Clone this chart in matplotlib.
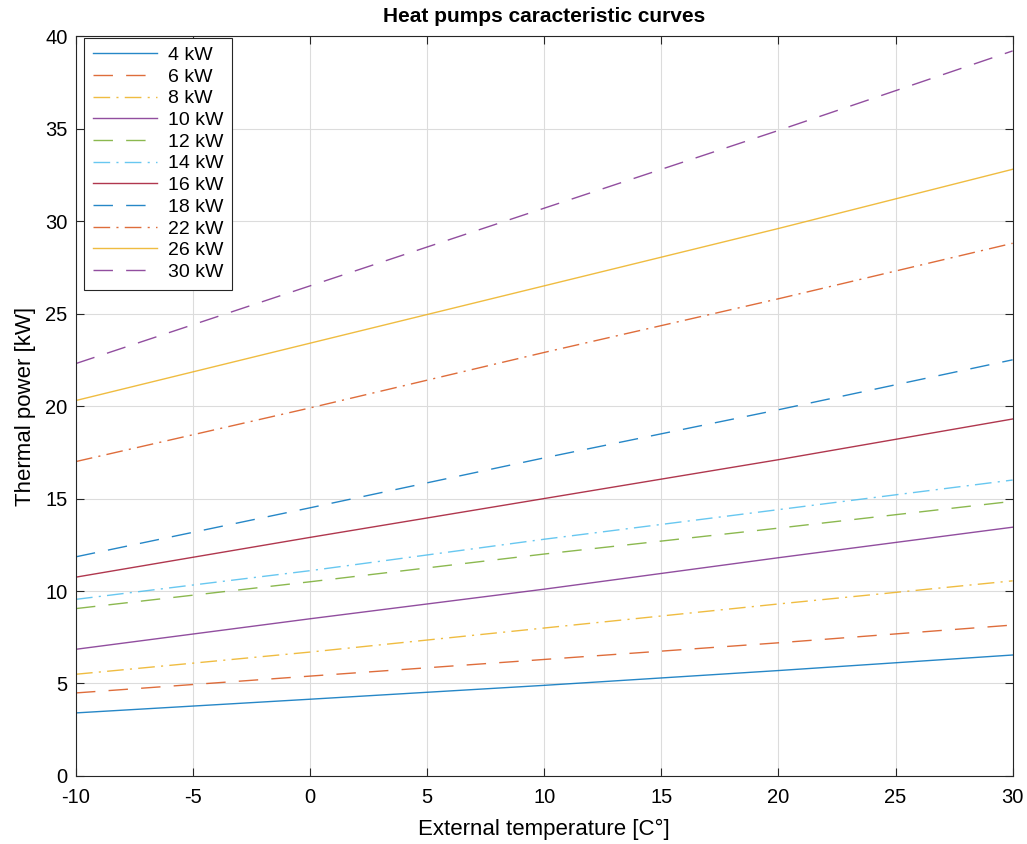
import matplotlib
matplotlib.use("Agg")
from matplotlib import pyplot as plt
import numpy as np

plt.rcParams['font.family'] = ['Liberation Sans', 'DejaVu Sans']
plt.rcParams['axes.unicode_minus'] = False

# data ####################################################################
temps = [-10, 0, 10, 20, 30]
labels = ['4 kW', '6 kW', '8 kW', '10 kW', '12 kW', '14 kW',
          '16 kW', '18 kW', '22 kW', '26 kW', '30 kW']
p4 = [3.41, 4.15, 4.9, 5.7, 6.54]
p6 = [4.49, 5.4, 6.3, 7.2, 8.16]
p8 = [5.5, 6.7, 8.0, 9.3, 10.55]
p10 = [6.85, 8.5, 10.1, 11.8, 13.45]
p12 = [9.05, 10.5, 12.0, 13.4, 14.85]
p14 = [9.55, 11.1, 12.8, 14.4, 16.0]
p16 = [10.75, 12.9, 15.0, 17.1, 19.3]
p18 = [11.85, 14.5, 17.2, 19.8, 22.5]
p22 = [17.0, 19.9, 22.9, 25.8, 28.8]
p26 = [20.3, 23.4, 26.5, 29.6, 32.8]
p30 = [22.3, 26.5, 30.7, 34.9, 39.2]
series = [p4, p6, p8, p10, p12, p14, p16, p18, p22, p26, p30]

#matlab-ish default colour / style cycle
colors = ['#0072BD', '#D95319', '#EDB120', '#7E2F8E', '#77AC30', '#4DBEEE', '#A2142F']
styles = ['-', (0, (14, 9.5)), (0, (12, 4.5, 1.5, 4.5))]

#plot####################################################################
fig = plt.figure(figsize=(10.27, 8.44), dpi=100)
ax = fig.add_axes([0.074, 0.0806, 0.912, 0.8766])

for i, (lab, vals) in enumerate(zip(labels, series)):
    ax.plot(temps, vals, color=colors[i % 7], linestyle=styles[i % 3],
            linewidth=1.0, alpha=0.85, label=lab)

ax.set_xlim(-10, 30)
ax.set_ylim(0, 40)
ax.set_xticks(np.arange(-10, 31, 5))
ax.set_yticks(np.arange(0, 41, 5))
ax.grid(True, color='#dcdcdc', linewidth=0.8)
ax.tick_params(direction='in', top=True, right=True, labelsize=14.5,
               length=6, color='#262626')
ax.tick_params(axis='x', pad=9)
ax.tick_params(axis='y', pad=6)
for s in ax.spines.values():
    s.set_color('#262626')
    s.set_linewidth(0.8)

ax.set_xlabel('External temperature [C°]', fontsize=16, labelpad=8)
ax.set_ylabel('Thermal power [kW]', fontsize=16, labelpad=7)
ax.set_title('Heat pumps caracteristic curves', fontsize=15, fontweight='bold', pad=10)

leg = ax.legend(loc='upper left', bbox_to_anchor=(0.0085, 0.998),
                fontsize=14, handlelength=3.3,
                fancybox=False, framealpha=1, edgecolor='#262626',
                borderaxespad=0, labelspacing=0.21, borderpad=0.45,
                handletextpad=0.55)
leg.get_frame().set_linewidth(0.8)

plt.savefig('out.png', dpi=100)
